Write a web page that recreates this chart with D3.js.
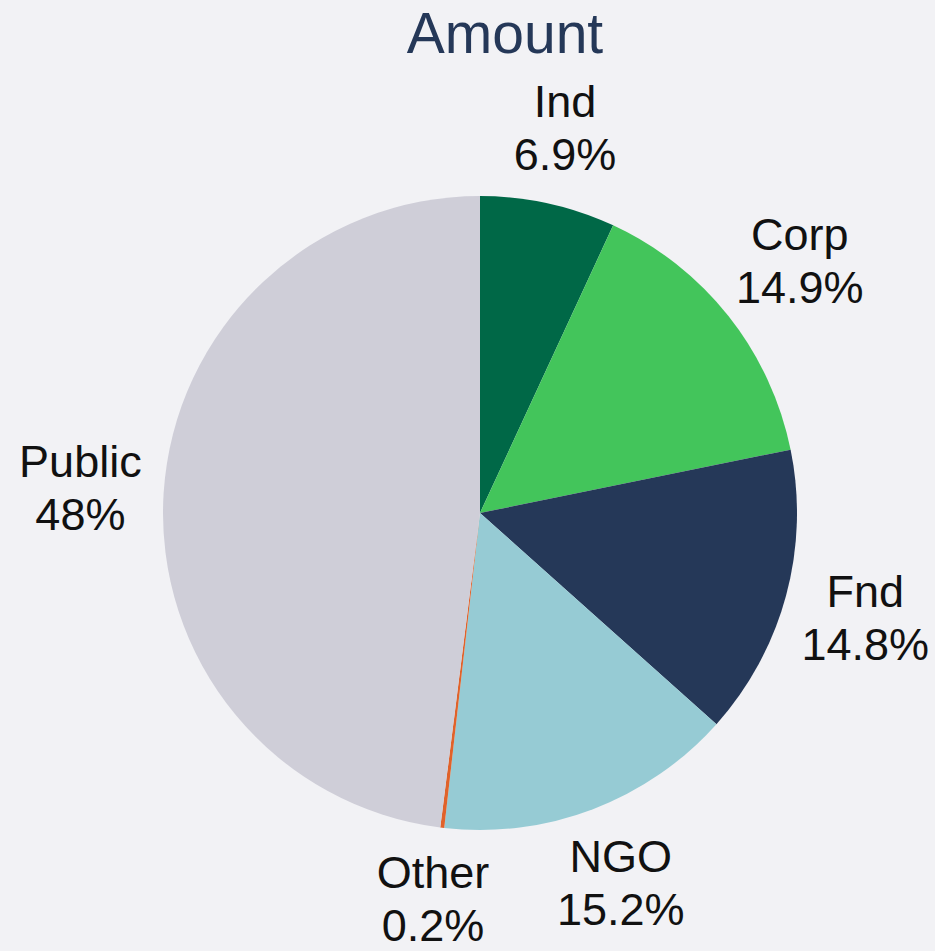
<!DOCTYPE html>
<html>
<head>
<meta charset="utf-8">
<script src="https://cdn.jsdelivr.net/npm/d3@7"></script>
<style>
	html, body { margin: 0; padding: 0; background: #f2f2f5; }
	svg { display: block; font-family: "Liberation Sans", Arial, sans-serif; }
</style>
</head>
<body>
<div id="chart"></div>
<script>
"use strict";

const categories = ["Ind", "Corp", "Fnd", "NGO", "Other", "Public"];
const shares = [6.9, 14.9, 14.8, 15.2, 0.2, 48];
const labels = ["6.9%", "14.9%", "14.8%", "15.2%", "0.2%", "48%"];
const colors = ["#006847", "#43c55b", "#253858", "#96cbd4", "#e0622a", "#cfced8"];

const W = 935, H = 951;
const CX = 480, CY = 513, R = 317;
const FONT = 45, LINE = 53, GAP = 22, LABEL_R = 395;

const svg = d3.select("#chart").append("svg")
	.attr("width", W)
	.attr("height", H);

svg.append("rect")
	.attr("width", W)
	.attr("height", H)
	.attr("fill", "#f2f2f5");

svg.append("text")
	.attr("x", 505)
	.attr("y", 53)
	.attr("text-anchor", "middle")
	.attr("font-size", 57)
	.attr("fill", "#253858")
	.text("Amount");

const color = d3.scaleOrdinal().domain(categories).range(colors);

const pie = d3.pie()
	.value((d, i) => shares[i])
	.sort(null);

const arcs = pie(categories);

const arc = d3.arc().innerRadius(0).outerRadius(R);

const g = svg.append("g")
	.attr("transform", `translate(${CX}, ${CY})`);

g.selectAll(".slice")
	.data(arcs)
	.enter().append("path")
	.attr("class", "slice")
	.attr("d", arc)
	.attr("fill", d => color(d.data));

// labels sit outside; a wide box on a diagonal gets pushed a bit further out
const lbl = g.selectAll(".lbl")
	.data(arcs)
	.enter().append("text")
	.attr("class", "lbl")
	.attr("text-anchor", "middle")
	.attr("font-size", FONT)
	.attr("fill", "#111");

lbl.append("tspan").attr("x", 0).attr("dy", 0).text(d => d.data);
lbl.append("tspan").attr("x", 0).attr("dy", LINE).text((d, i) => labels[i]);

const lift = (LINE - 0.716 * FONT) / 2; // block center sits ~10px under the first baseline

lbl.each(function (d) {
	const el = d3.select(this);
	const w = d3.max(el.selectAll("tspan").nodes(), n => n.getComputedTextLength());
	const h = 0.716 * FONT + LINE;
	const a = (d.startAngle + d.endAngle) / 2;
	const s = Math.abs(Math.sin(a)), c = Math.abs(Math.cos(a));
	const half = Math.min(s > 1e-6 ? w / 2 / s : Infinity, c > 1e-6 ? h / 2 / c : Infinity);
	let r = Math.max(LABEL_R, R + GAP + half);
	// keep the wide right-hand labels inside the frame
	if (Math.sin(a) > 0) r = Math.min(r, (W - CX - w / 2 - 6) / s);
	let x = r * Math.sin(a);
	let y = -r * Math.cos(a) - lift;
	// and the bottom ones above the lower edge
	y = Math.min(y, H - CY - LINE - 0.21 * FONT - 1);
	el.attr("transform", `translate(${x}, ${y})`);
});
</script>
</body>
</html>
